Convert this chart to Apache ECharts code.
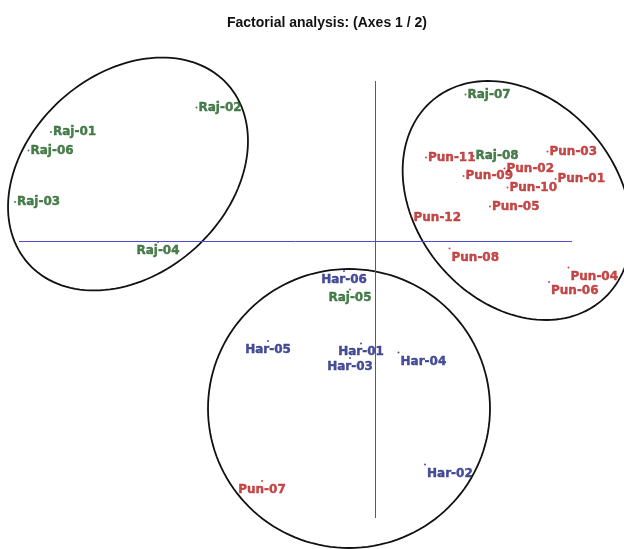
<!DOCTYPE html>
<html><head><meta charset="utf-8">
<script src="https://cdn.jsdelivr.net/npm/echarts@6/dist/echarts.min.js"></script>
<style>html,body{margin:0;padding:0;background:#fff}#c{width:624px;height:549px}</style>
</head><body><div id="c"></div>
<script>
// Factor scores (F1, F2)
const rajNames = ['Raj-01','Raj-02','Raj-03','Raj-04','Raj-05','Raj-06','Raj-07','Raj-08'];
const rajF1 = [-6.48, -3.57, -7.20, -4.34, -0.50, -6.93, 1.81, 1.97];
const rajF2 = [ 2.18,  2.67,  0.78, -0.02, -0.97,  1.81, 2.93, 1.70];
const rajLabelPos = ['r','r','r','b','b','r','r','r'];

const punNames = ['Pun-01','Pun-02','Pun-03','Pun-04','Pun-05','Pun-06','Pun-07','Pun-08','Pun-09','Pun-10','Pun-11','Pun-12'];
const punF1 = [3.61, 2.59, 3.45,  3.87, 2.30,  3.48, -2.26,  1.49, 1.77, 2.65, 1.02, 0.73];
const punF2 = [1.24, 1.45, 1.79, -0.53, 0.69, -0.82, -4.80, -0.15, 1.30, 1.07, 1.67, 0.47];
const punLabelPos = ['r','r','r','br','r','br','b','br','r','r','r','r'];

const harNames = ['Har-01','Har-02','Har-03','Har-04','Har-05','Har-06'];
const harF1 = [-0.28,  1.00, -0.50,  0.47, -2.14, -0.62];
const harF2 = [-2.05, -4.47, -2.34, -2.23, -2.00, -0.60];
const harLabelPos = ['b','br','b','br','b','b'];

// Group ellipses: centre (F1, F2), semi-axes, rotation (degrees)
const ellipseCenterF1 = [-4.94, 2.84, -0.52];
const ellipseCenterF2 = [ 1.34, 0.81, -3.35];
const ellipseSemiMajor = [2.68, 2.62, 2.82];
const ellipseSemiMinor = [2.00, 2.02, 2.79];
const ellipseAngleDeg = [42, -50, 0];

const axisF1Range = [-7.12, 3.94];
const axisF2Range = [-5.54, 3.2];

function labelFor(p) {
  if (p === 'r') return { position: 'right', distance: 1 };
  if (p === 'b') return { position: 'bottom', distance: 1.5 };
  return { position: [3, 4], align: 'left', verticalAlign: 'top' };
}
function buildData(names, f1, f2, pos) {
  return names.map((n, i) => ({ name: n, value: [f1[i], f2[i]], label: labelFor(pos[i]) }));
}
function scatterSeries(names, f1, f2, pos, color) {
  return {
    type: 'scatter', symbol: 'circle', symbolSize: 2, clip: false, silent: true,
    itemStyle: { color: color },
    label: {
      show: true, formatter: '{b}', color: color,
      fontFamily: 'DejaVu Sans', fontWeight: 'bold', fontSize: 12,
      textBorderColor: color, textBorderWidth: 0.4
    },
    data: buildData(names, f1, f2, pos)
  };
}

const ellipseData = ellipseCenterF1.map((c, i) => [c, ellipseCenterF2[i], ellipseSemiMajor[i], ellipseSemiMinor[i], ellipseAngleDeg[i]]);

const chart = echarts.init(document.getElementById('c'), null, { renderer: 'canvas' });
const hidden = { axisLine: { show: false }, axisTick: { show: false }, axisLabel: { show: false }, splitLine: { show: false } };
const rajSeries = scatterSeries(rajNames, rajF1, rajF2, rajLabelPos, '#1b5e20');
rajSeries.markLine = {
  silent: true, symbol: ['none', 'none'], animation: false,
  label: { show: false },
  lineStyle: { color: '#4b4bdc', width: 1, type: 'solid', opacity: 1 },
  emphasis: { disabled: true },
  data: [{ yAxis: 0 }, { xAxis: 0 }]
};
chart.setOption({
  backgroundColor: '#ffffff',
  animation: false,
  title: {
    text: 'Factorial analysis: (Axes 1 / 2)', left: 227, top: 16, padding: 0,
    textStyle: { fontFamily: 'Liberation Sans', fontWeight: 'bold', fontSize: 14, color: '#111' }
  },
  grid: { left: 19, top: 81, width: 553, height: 437, containLabel: false },
  xAxis: Object.assign({ type: 'value', min: axisF1Range[0], max: axisF1Range[1] }, hidden),
  yAxis: Object.assign({ type: 'value', min: axisF2Range[0], max: axisF2Range[1] }, hidden),
  series: [
    {
      type: 'custom', silent: true, clip: false,
      encode: { x: 0, y: 1 },
      renderItem: function (params, api) {
        const cx = api.value(0), cy = api.value(1), a = api.value(2), b = api.value(3);
        const th = api.value(4) * Math.PI / 180;
        const pts = [];
        for (let k = 0; k < 144; k++) {
          const t = k / 144 * Math.PI * 2;
          const x = cx + a * Math.cos(t) * Math.cos(th) - b * Math.sin(t) * Math.sin(th);
          const y = cy + a * Math.cos(t) * Math.sin(th) + b * Math.sin(t) * Math.cos(th);
          pts.push(api.coord([x, y]));
        }
        return { type: 'polygon', shape: { points: pts }, style: { fill: 'none', stroke: '#111', lineWidth: 1.8 } };
      },
      data: ellipseData
    },
    rajSeries,
    scatterSeries(punNames, punF1, punF2, punLabelPos, '#b71c1c'),
    scatterSeries(harNames, harF1, harF2, harLabelPos, '#1a237e')
  ]
});
</script>
</body></html>
